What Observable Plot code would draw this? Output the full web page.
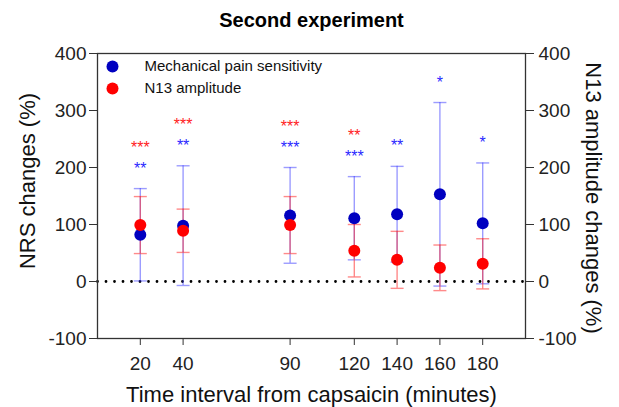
<!DOCTYPE html>
<html>
<head>
<meta charset="utf-8">
<script src="https://cdn.jsdelivr.net/npm/d3@7"></script>
<script src="https://cdn.jsdelivr.net/npm/@observablehq/plot@0.6"></script>
<style>
  html, body { margin: 0; padding: 0; background: #fff; }
  svg { font-family: "Liberation Sans", Arial, sans-serif; }
</style>
</head>
<body>
<div id="chart"></div>
<script>
const times = [20, 40, 90, 120, 140, 160, 180];
const painMean = [82, 98, 116, 111, 118, 153, 102];
const painSD = [81, 105, 84, 73, 84, 161, 106];
const n13Mean = [99, 89, 99, 54, 38, 24, 31];
const n13SD = [50, 38, 50, 46, 50, 40, 44];
const painSig = ["**", "**", "***", "***", "**", "*", "*"];
const n13Sig = ["***", "***", "***", "**", "", "", ""];
const yTicks = [-100, 0, 100, 200, 300, 400];
const seriesNames = ["Mechanical pain sensitivity", "N13 amplitude"];

const pain = times.map((t, i) => ({t, m: painMean[i], lo: painMean[i] - painSD[i], hi: painMean[i] + painSD[i], sig: painSig[i]}));
const n13 = times.map((t, i) => ({t, m: n13Mean[i], lo: n13Mean[i] - n13SD[i], hi: n13Mean[i] + n13SD[i], sig: n13Sig[i], bhi: painMean[i] + painSD[i]}));

const BLUE = "#0000c0", RED = "#ff0000";
const BLUE_BAR = "#3a3aff", RED_BAR = "#ff2a2a";
const BLUE_STAR = "#2a2aff", RED_STAR = "#ff2222";

const cap = {draw(ctx, size) { const w = Math.sqrt(size / Math.PI); ctx.moveTo(-w, 0); ctx.lineTo(w, 0); }};
const FONT = "Liberation Sans, Arial, sans-serif";
const fmt = d => String(d);

const chart = Plot.plot({
  width: 619,
  height: 407,
  marginLeft: 97,
  marginRight: 94,
  marginTop: 53,
  marginBottom: 69,
  style: {fontFamily: FONT, background: "#fff", color: "#222"},
  x: {domain: [0, 200]},
  y: {domain: [-100, 400]},
  marks: [
    Plot.ruleY([0], {stroke: "#000", strokeWidth: 2.8, strokeDasharray: "0,8.5", strokeLinecap: "round", strokeDashoffset: -9}),
    // error bars
    Plot.ruleX(pain, {x: "t", y1: "lo", y2: "hi", stroke: BLUE_BAR, strokeOpacity: 0.5, strokeWidth: 1.4}),
    Plot.dot(pain, {x: "t", y: "hi", symbol: cap, r: 6.5, fill: "none", stroke: BLUE_BAR, strokeOpacity: 0.5, strokeWidth: 1.4}),
    Plot.dot(pain, {x: "t", y: "lo", symbol: cap, r: 6.5, fill: "none", stroke: BLUE_BAR, strokeOpacity: 0.5, strokeWidth: 1.4}),
    Plot.ruleX(n13, {x: "t", y1: "lo", y2: "hi", stroke: RED_BAR, strokeOpacity: 0.55, strokeWidth: 1.4}),
    Plot.dot(n13, {x: "t", y: "hi", symbol: cap, r: 6.5, fill: "none", stroke: RED_BAR, strokeOpacity: 0.55, strokeWidth: 1.4}),
    Plot.dot(n13, {x: "t", y: "lo", symbol: cap, r: 6.5, fill: "none", stroke: RED_BAR, strokeOpacity: 0.55, strokeWidth: 1.4}),
    // means
    Plot.dot(pain, {x: "t", y: "m", r: 6, fill: BLUE}),
    Plot.dot(n13, {x: "t", y: "m", r: 6, fill: RED}),
    // significance stars
    Plot.text(pain, {x: "t", y: "hi", text: "sig", dy: -20, fill: BLUE_STAR, fontSize: 16, lineAnchor: "middle"}),
    Plot.text(n13, {x: "t", y: "bhi", text: "sig", dy: -41, fill: RED_STAR, fontSize: 16, lineAnchor: "middle"}),
    // frame & axes
    Plot.frame({stroke: "#333", strokeWidth: 1.3}),
    Plot.axisY({anchor: "left", ticks: yTicks, tickFormat: fmt, tickSize: 8, tickPadding: 3, fontSize: 19, label: null, stroke: "#333"}),
    Plot.axisY({anchor: "right", ticks: yTicks, tickFormat: fmt, tickSize: 8, tickPadding: 5, fontSize: 19, label: null, stroke: "#333"}),
    Plot.axisX({anchor: "bottom", ticks: times, tickFormat: fmt, tickSize: 7, tickPadding: 11, fontSize: 19, label: null, stroke: "#333"}),
    // legend
    Plot.dot([0], {frameAnchor: "top-left", dx: 15, dy: 13, r: 6, fill: BLUE}),
    Plot.dot([0], {frameAnchor: "top-left", dx: 15, dy: 35, r: 6, fill: RED}),
    Plot.text([seriesNames[0]], {frameAnchor: "top-left", dx: 47, dy: 13, textAnchor: "start", lineAnchor: "middle", fontSize: 15, fill: "#111"}),
    Plot.text([seriesNames[1]], {frameAnchor: "top-left", dx: 47, dy: 35, textAnchor: "start", lineAnchor: "middle", fontSize: 15, fill: "#111"}),
    // titles
    Plot.text(["Second experiment"], {frameAnchor: "top", dy: -33, fontSize: 20, fontWeight: "bold", textAnchor: "middle", lineAnchor: "middle", fill: "#000"}),
    Plot.text(["NRS changes (%)"], {frameAnchor: "left", dx: -70, dy: -15, rotate: -90, fontSize: 22, textAnchor: "middle", lineAnchor: "middle", fill: "#111"}),
    Plot.text(["N13 amplitude changes (%)"], {frameAnchor: "right", dx: 68, dy: 2, rotate: 90, fontSize: 22, textAnchor: "middle", lineAnchor: "middle", fill: "#111"}),
    Plot.text(["Time interval from capsaicin (minutes)"], {frameAnchor: "bottom", dy: 56, fontSize: 22, textAnchor: "middle", lineAnchor: "middle", fill: "#111"})
  ]
});
document.getElementById("chart").appendChild(chart);
</script>
</body>
</html>
